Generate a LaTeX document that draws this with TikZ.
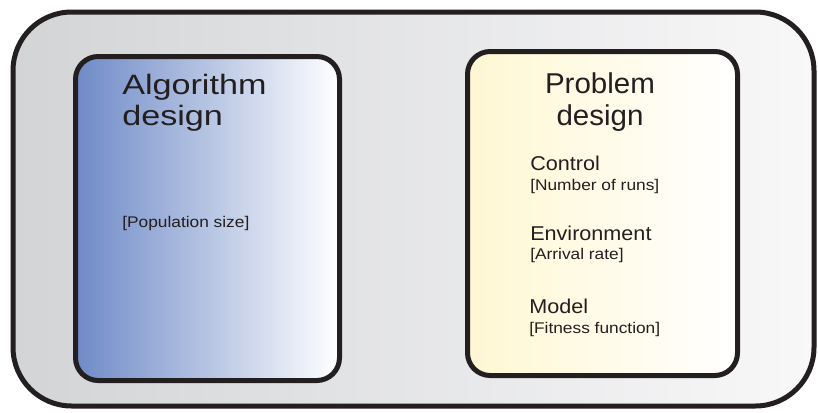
\documentclass[tikz,border=0pt]{standalone}
\usepackage{fontspec}
\setmainfont{Liberation Sans}
\newfontfamily\algfont[FakeStretch=1.22]{Liberation Sans}
\newfontfamily\probfont[FakeStretch=1.03]{Liberation Sans}
\newfontfamily\itemfont[FakeStretch=1.08]{Liberation Sans}
\newfontfamily\notefont[FakeStretch=1.12]{Liberation Sans}
\usetikzlibrary{positioning}
\definecolor{inkline}{HTML}{231F20}
\definecolor{frameleft}{HTML}{D3D4D6}
\definecolor{frameright}{HTML}{F8F8F9}
\definecolor{algleft}{HTML}{6E8AC7}
\definecolor{probleft}{HTML}{FFF7D2}

\begin{document}
\begin{tikzpicture}[x=0.75pt, y=-0.75pt,
    framebox/.style={draw=inkline, line width=3.75pt, rounded corners=44pt,
      left color=frameleft, right color=frameright},
    designbox/.style={draw=inkline, line width=3.75pt, rounded corners=17pt},
    heading/.style={inner sep=0pt, text=inkline, anchor=base west},
    itemtext/.style={inner sep=0pt, text=inkline, anchor=base west,
      font=\itemfont\fontsize{15}{18}\selectfont},
    notetext/.style={inner sep=0pt, text=inkline, anchor=base west,
      font=\notefont\fontsize{11.6}{14}\selectfont}]
  \useasboundingbox (0,0) rectangle (818,412);
  % Outer frame
  \draw[framebox] (13,12) rectangle (814,406);

  % Algorithm design box
  \draw[designbox, left color=algleft, right color=white] (75.5,56.5) rectangle (339.5,380.5);
  \node[heading, font=\algfont\fontsize{21}{25}\selectfont] (algtitle) at (122,94) {Algorithm};
  \node[heading, font=\algfont\fontsize{21}{25}\selectfont] (algsub) at (122,125) {design};
  \node[notetext] (popsize) at (122,227) {[Population size]};

  % Problem design box
  \draw[designbox, left color=probleft, right color=white] (467.5,51.5) rectangle (737.5,375.5);
  \node[heading, anchor=base, font=\probfont\fontsize{21.5}{25}\selectfont] (probtitle) at (600,93) {Problem};
  \node[heading, anchor=base, font=\probfont\fontsize{21.5}{25}\selectfont] (probsub) at (600,125) {design};

  % Problem factors
  \node[itemtext] (control) at (530,170.5) {Control};
  \node[notetext] (runs) at (530,190) {[Number of runs]};
  \node[itemtext] (environment) at (530,240) {Environment};
  \node[notetext] (arrival) at (530,259) {[Arrival rate]};
  \node[itemtext] (model) at (529,313) {Model};
  \node[notetext] (fitness) at (529,333.5) {[Fitness function]};
\end{tikzpicture}
\end{document}
